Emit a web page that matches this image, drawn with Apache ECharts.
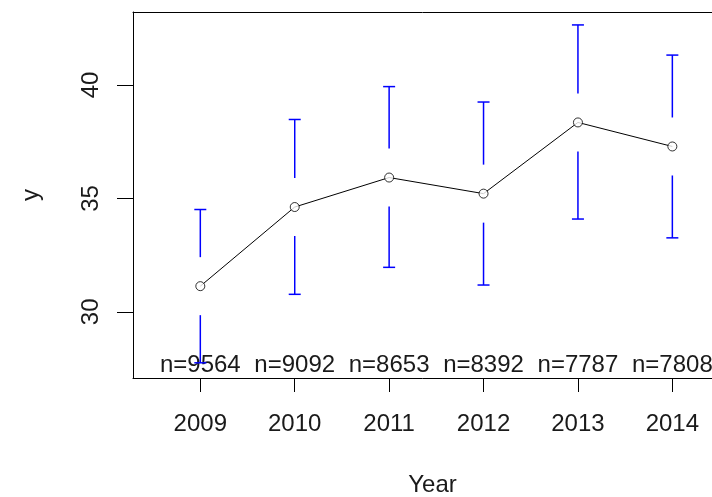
<!DOCTYPE html>
<html>
<head>
<meta charset="utf-8">
<script src="https://cdn.jsdelivr.net/npm/echarts@6/dist/echarts.min.js"></script>
<style>
  html, body { margin: 0; padding: 0; background: #fff; }
  #chart { width: 712px; height: 497px; }
</style>
</head>
<body>
<div id="chart"></div>
<script>
// values
const years = [2009, 2010, 2011, 2012, 2013, 2014];
const means = [31.13, 34.62, 35.92, 35.21, 38.35, 37.29];
const lower = [27.75, 30.77, 31.96, 31.18, 34.09, 33.26];
const upper = [34.51, 38.48, 39.93, 39.25, 42.65, 41.32];
const counts = [9564, 9092, 8653, 8392, 7787, 7808];
const yTicks = [30, 35, 40];

const font = "'Liberation Sans', Arial, sans-serif";
const fs = 24;
const txt = '#1a1a1a';

const chart = echarts.init(document.getElementById('chart'), null, { renderer: 'canvas' });

const xBase = {
  type: 'value',
  min: 2008.287,
  max: 2014.42,
  splitLine: { show: false }
};

const option = {
  animation: false,
  backgroundColor: '#fff',
  grid: { left: 133, right: 0, top: 12, bottom: 119, outerBoundsMode: 'none' },
  xAxis: [
    Object.assign({}, xBase, {
      position: 'bottom',
      name: 'Year',
      nameLocation: 'middle',
      nameGap: 95,
      nameTextStyle: { fontFamily: font, fontSize: fs, color: txt, padding: [0, 0, 0, 20] },
      axisLine: { show: true, lineStyle: { color: '#000', width: 1 } },
      axisTick: { show: true, length: 14, customValues: years, lineStyle: { color: '#000' } },
      axisLabel: {
        customValues: years, margin: 34,
        fontFamily: font, fontSize: fs, color: txt,
        formatter: v => String(v)
      }
    }),
    // sample sizes sit just inside the bottom of the box
    Object.assign({}, xBase, {
      position: 'bottom',
      axisLine: { show: false },
      axisTick: { show: false },
      axisLabel: {
        inside: true, margin: 1,
        customValues: years,
        fontFamily: font, fontSize: fs, color: txt,
        formatter: v => 'n=' + counts[years.indexOf(v)]
      }
    }),
    // top border of the box
    Object.assign({}, xBase, {
      position: 'top',
      axisLine: { show: true, lineStyle: { color: '#000', width: 1 } },
      axisTick: { show: false },
      axisLabel: { show: false }
    })
  ],
  yAxis: {
    type: 'value',
    min: 27.08,
    max: 43.22,
    name: 'y',
    nameLocation: 'middle',
    nameRotate: 90,
    nameGap: 90,
    nameTextStyle: { fontFamily: font, fontSize: fs, color: txt },
    splitLine: { show: false },
    axisLine: { show: true, lineStyle: { color: '#000', width: 1 } },
    axisTick: { show: true, length: 16, customValues: yTicks, lineStyle: { color: '#000' } },
    axisLabel: {
      customValues: yTicks, rotate: 90, margin: 30,
      fontFamily: font, fontSize: fs, color: txt
    }
  },
  series: [
    {
      type: 'custom',
      xAxisIndex: 0,
      data: years.map((y, i) => [y, lower[i], upper[i], means[i]]),
      renderItem: function (params, api) {
        const x = api.value(0);
        const pLo = api.coord([x, api.value(1)]);
        const pHi = api.coord([x, api.value(2)]);
        const pM = api.coord([x, api.value(3)]);
        const gap = 29, cap = 6;
        const st = { stroke: '#0000ff', lineWidth: 1.5 };
        const kids = [];
        if (pM[1] - gap > pHi[1]) {
          kids.push({ type: 'line', shape: { x1: pM[0], y1: pM[1] - gap, x2: pHi[0], y2: pHi[1] }, style: st });
        }
        kids.push({ type: 'line', shape: { x1: pHi[0] - cap, y1: pHi[1], x2: pHi[0] + cap, y2: pHi[1] }, style: st });
        if (pM[1] + gap < pLo[1]) {
          kids.push({ type: 'line', shape: { x1: pM[0], y1: pM[1] + gap, x2: pLo[0], y2: pLo[1] }, style: st });
        }
        kids.push({ type: 'line', shape: { x1: pLo[0] - cap, y1: pLo[1], x2: pLo[0] + cap, y2: pLo[1] }, style: st });
        return { type: 'group', children: kids };
      },
      z: 3
    },
    {
      type: 'line',
      xAxisIndex: 0,
      data: years.map((y, i) => [y, means[i]]),
      symbol: 'none',
      lineStyle: { color: '#000', width: 1 },
      z: 4
    },
    {
      type: 'scatter',
      xAxisIndex: 0,
      data: years.map((y, i) => [y, means[i]]),
      symbol: 'circle',
      symbolSize: 9,
      itemStyle: { color: '#fff', borderColor: '#000', borderWidth: 1 },
      z: 5
    }
  ]
};

chart.setOption(option);
</script>
</body>
</html>
